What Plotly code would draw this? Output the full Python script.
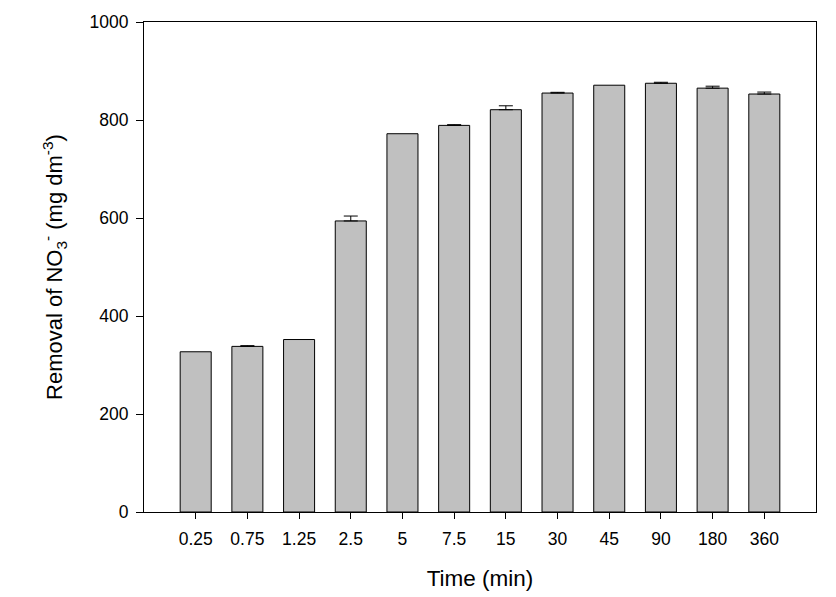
import plotly.graph_objects as go

categories = ["0.25", "0.75", "1.25", "2.5", "5", "7.5", "15", "30", "45", "90", "180", "360"]
removal = [327, 338, 352, 594, 772, 789, 821, 855, 871, 875, 865, 853]
error_up = [0, 1.5, 0, 10, 0, 1.5, 8, 1.5, 0, 2, 4, 4]
y_ticks = [0, 200, 400, 600, 800, 1000]

# only bars with a visible error get a cap
idx = [i for i, e in enumerate(error_up) if e > 0]
err_x = [categories[i] for i in idx]
err_y = [removal[i] for i in idx]
err_v = [error_up[i] for i in idx]

fig = go.Figure()
fig.add_trace(go.Bar(
    x=categories,
    y=removal,
    width=0.6,
    marker=dict(color="#C0C0C0", line=dict(color="black", width=1)),
    showlegend=False,
))
fig.add_trace(go.Scatter(
    x=err_x, y=err_y, mode="none",
    error_y=dict(type="data", symmetric=False, array=err_v,
                 arrayminus=[0] * len(err_v),
                 color="black", thickness=1, width=7),
    showlegend=False, hoverinfo="skip",
))

font_family = "Liberation Sans, Arial, sans-serif"
fig.update_layout(
    width=836, height=597,
    margin=dict(l=144, r=20, t=22, b=85),
    plot_bgcolor="white", paper_bgcolor="white",
    font=dict(family=font_family, color="black", size=17.5),
    xaxis=dict(
        type="category",
        categoryorder="array", categoryarray=categories,
        range=[-1, 12],
        automargin=False,
        showline=True, linecolor="black", linewidth=1, mirror=True,
        ticks="outside", ticklen=6, tickcolor="black", tickwidth=1,
        showgrid=False, zeroline=False,
        tickfont=dict(size=17.5),
        ticklabelstandoff=5,
        title=dict(text="Time (min)", font=dict(size=22.5), standoff=22),
    ),
    yaxis=dict(
        range=[0, 1000],
        tickvals=y_ticks,
        automargin=False,
        showline=True, linecolor="black", linewidth=1, mirror=True,
        ticks="outside", ticklen=7, tickcolor="black", tickwidth=1,
        showgrid=False, zeroline=False,
        tickfont=dict(size=17.5),
        ticklabelstandoff=4,
        title=dict(text="Removal of NO<sub>3</sub><sup>-</sup> (mg dm<sup>-3</sup>)",
                   font=dict(size=22), standoff=20),
    ),
)

fig.write_html("out.html")
